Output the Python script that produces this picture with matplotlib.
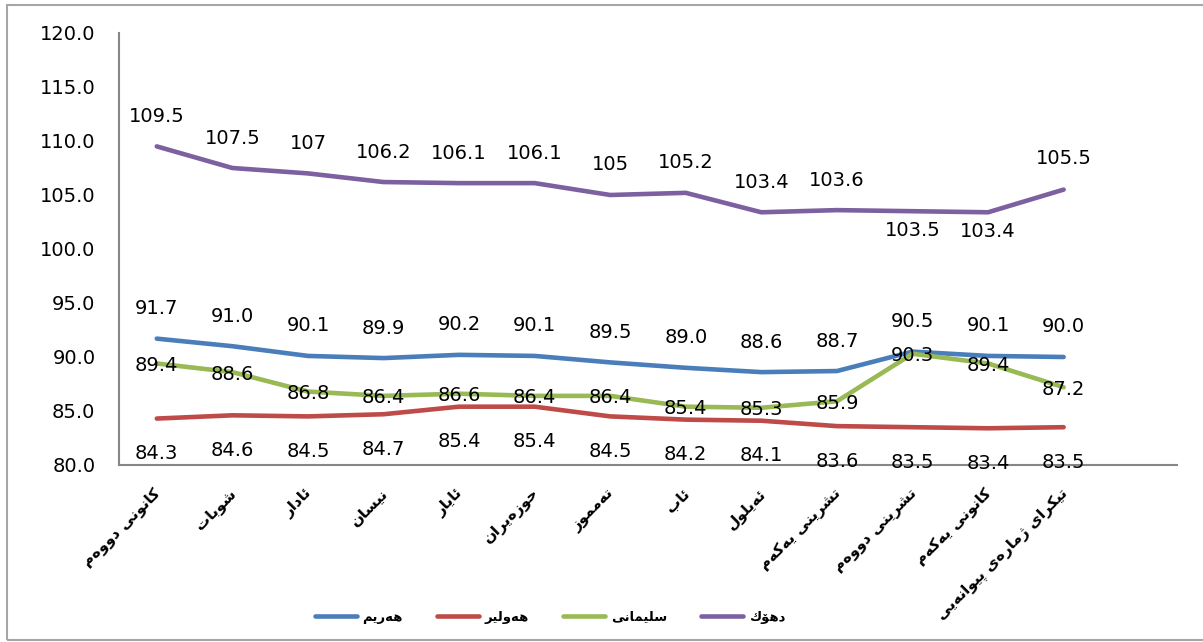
import numpy as np
import matplotlib
matplotlib.use("Agg")
import matplotlib.pyplot as plt
import matplotlib.transforms as mtransforms
from matplotlib.patches import Rectangle

# month labels (logical order, Sorani Kurdish)
months = ["کانونی دووەم", "شوبات", "ئادار", "نیسان", "ئایار", "حوزەیران",
          "تەمموز", "ئاب", "ئەیلول", "تشرینی یەکەم", "تشرینی دووەم",
          "کانونی یەکەم", "تێکڕای ژمارەی پێوانەیی"]

series_names = ["هەرێم", "هەولێر", "سلێمانی", "دهۆك"]

region = [91.7, 91.0, 90.1, 89.9, 90.2, 90.1, 89.5, 89.0, 88.6, 88.7, 90.5, 90.1, 90.0]
erbil = [84.3, 84.6, 84.5, 84.7, 85.4, 85.4, 84.5, 84.2, 84.1, 83.6, 83.5, 83.4, 83.5]
sulaimani = [89.4, 88.6, 86.8, 86.4, 86.6, 86.4, 86.4, 85.4, 85.3, 85.9, 90.3, 89.4, 87.2]
duhok = [109.5, 107.5, 107, 106.2, 106.1, 106.1, 105, 105.2, 103.4, 103.6, 103.5, 103.4, 105.5]

colors = ["#4A7EBB", "#BE4B48", "#98B954", "#7D60A0"]

# --- minimal arabic shaping (matplotlib has no text shaping / bidi) ---
# isolated, final, initial, medial
FORMS = {
    "\u0627": ("\uFE8D", "\uFE8E", None, None),
    "\u0626": ("\uFE89", "\uFE8A", "\uFE8B", "\uFE8C"),
    "\u0628": ("\uFE8F", "\uFE90", "\uFE91", "\uFE92"),
    "\u062A": ("\uFE95", "\uFE96", "\uFE97", "\uFE98"),
    "\u062C": ("\uFE9D", "\uFE9E", "\uFE9F", "\uFEA0"),
    "\u062D": ("\uFEA1", "\uFEA2", "\uFEA3", "\uFEA4"),
    "\u062F": ("\uFEA9", "\uFEAA", None, None),
    "\u0631": ("\uFEAD", "\uFEAE", None, None),
    "\u0695": ("\u0695", "\uFEAE", None, None),
    "\u0632": ("\uFEAF", "\uFEB0", None, None),
    "\u0698": ("\uFB8A", "\uFB8B", None, None),
    "\u0633": ("\uFEB1", "\uFEB2", "\uFEB3", "\uFEB4"),
    "\u0634": ("\uFEB5", "\uFEB6", "\uFEB7", "\uFEB8"),
    "\u0643": ("\uFED9", "\uFEDA", "\uFEDB", "\uFEDC"),
    "\u06A9": ("\uFB8E", "\uFB8F", "\uFB90", "\uFB91"),
    "\u06AF": ("\uFB92", "\uFB93", "\uFB94", "\uFB95"),
    "\u0644": ("\uFEDD", "\uFEDE", "\uFEDF", "\uFEE0"),
    "\u0645": ("\uFEE1", "\uFEE2", "\uFEE3", "\uFEE4"),
    "\u0646": ("\uFEE5", "\uFEE6", "\uFEE7", "\uFEE8"),
    "\u0647": ("\uFEE9", "\uFEEA", "\uFEEB", "\uFEEC"),
    "\u06D5": ("\u06D5", "\uFEEA", None, None),
    "\u0648": ("\uFEED", "\uFEEE", None, None),
    "\u06C6": ("\uFBD9", "\uFBDA", None, None),
    "\u067E": ("\uFB56", "\uFB57", "\uFB58", "\uFB59"),
    "\u06CC": ("\uFBFC", "\uFBFD", "\uFBFE", "\uFBFF"),
    "\u06CE": ("\u06CE", "\uFBFD", "\uFBFE", "\uFBFF"),
}


def shape(text):
    out = []
    for i, ch in enumerate(text):
        if ch not in FORMS:
            out.append(ch)
            continue
        iso, fin, ini, med = FORMS[ch]
        prev = text[i - 1] if i > 0 else ""
        nxt = text[i + 1] if i + 1 < len(text) else ""
        join_prev = prev in FORMS and FORMS[prev][2] is not None
        join_next = ini is not None and nxt in FORMS
        if join_prev and join_next:
            out.append(med)
        elif join_prev:
            out.append(fin)
        elif join_next:
            out.append(ini)
        else:
            out.append(iso)
    return "".join(reversed(out))


plt.rcParams["font.family"] = ["DejaVu Sans"]

fig = plt.figure(figsize=(12.03, 6.42), dpi=100)
ax = fig.add_axes([119 / 1203, 1 - 465 / 642, (1177 - 119) / 1203, (465 - 33) / 642])

x = np.arange(len(months))
all_series = [region, erbil, sulaimani, duhok]
for vals, name, c in zip(all_series, series_names, colors):
    ax.plot(x, vals, color=c, lw=3.3, solid_capstyle="round",
            solid_joinstyle="round", label=shape(name))

# data labels, offsets in pixels (positive = down)
label_dy = {
    0: [-30] * 13,
    1: [35] * 13,
    2: [2] * 13,
    3: [-30] * 10 + [19, 19, -31],
}
for k, vals in enumerate(all_series):
    for i, v in enumerate(vals):
        txt = f"{v:g}" if k == 3 else f"{v:.1f}"
        ax.annotate(txt, (i, v), xytext=(0, -label_dy[k][i] * 0.72),
                    textcoords="offset points", ha="center", va="center",
                    fontsize=14, color="black")

ax.set_xlim(-0.5, 13.5)
ax.set_ylim(80, 120)
ax.set_yticks(np.arange(80, 121, 5))
ax.set_yticklabels([f"{t:.1f}" for t in np.arange(80, 121, 5)], fontsize=14)
ax.set_xticks(x)
ax.set_xticklabels([shape(m) for m in months], rotation=45, ha="right",
                   va="center", rotation_mode="anchor", fontsize=11,
                   fontweight="bold")
ax.tick_params(axis="y", length=0, pad=17)
ax.tick_params(axis="x", length=0, pad=19)
offset = mtransforms.ScaledTranslation(2 / 100, 0, fig.dpi_scale_trans)
for lbl in ax.get_xticklabels():
    lbl.set_transform(lbl.get_transform() + offset)

for side in ["top", "right"]:
    ax.spines[side].set_visible(False)
for side in ["left", "bottom"]:
    ax.spines[side].set_color("#868686")
    ax.spines[side].set_linewidth(1.5)

leg = fig.legend(loc="center", bbox_to_anchor=(550 / 1203, 1 - 617 / 642),
                 ncol=4, frameon=False, handlelength=3.2, handletextpad=0.4,
                 columnspacing=2.6, prop={"weight": "bold", "size": 9.5})
for line in leg.get_lines():
    line.set_linewidth(3.3)
    line.set_solid_capstyle("round")

fig.patches.append(Rectangle((7 / 1203, 1 - 640 / 642), 1.2, (640 - 5) / 642,
                             transform=fig.transFigure, fill=False,
                             ec="#a6a6a6", lw=1.5))

fig.savefig("out.png", dpi=100)
